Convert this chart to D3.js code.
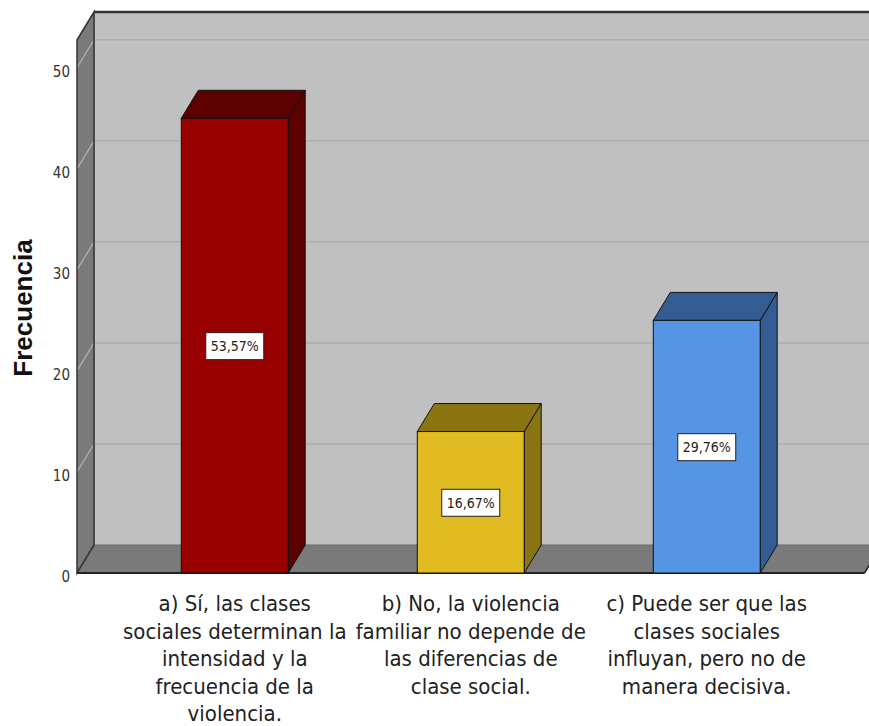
<!DOCTYPE html>
<html>
<head>
<meta charset="utf-8">
<script src="https://cdn.jsdelivr.net/npm/d3@7"></script>
<style>
  body { margin: 0; background: #fff; }
  .narrow { font-family: "Liberation Sans Narrow", "DejaVu Sans Condensed", "Arial Narrow", sans-serif; }
</style>
</head>
<body>
<div id="chart"></div>
<script>
// DATA
var categories = [
  ["a) Sí, las clases", "sociales determinan la", "intensidad y la", "frecuencia de la", "violencia."],
  ["b) No, la violencia", "familiar no depende de", "las diferencias de", "clase social."],
  ["c) Puede ser que las", "clases sociales", "influyan, pero no de", "manera decisiva."]
];
var frequencies = [45, 14, 25];
var percentLabels = ["53,57%", "16,67%", "29,76%"];
var yTicks = [0, 10, 20, 30, 40, 50];
var frontColors = ["#990000", "#e1bb22", "#5595e3"];
var darkColors = ["#5c0000", "#8a7512", "#345c92"];

// SVG SETUP
var width = 869, height = 726;
var svg = d3.select("#chart").append("svg")
  .attr("width", width)
  .attr("height", height);

// 3D DEPTH OFFSET
var dx = 17, dy = -28;

var y = d3.scaleLinear().domain([0, 52.75]).range([573, 40]);
var x = d3.scaleBand()
  .domain(d3.range(categories.length))
  .range([77, 864.5])
  .paddingInner(0.547)
  .paddingOuter(0.442);

var x0 = 77, x1 = 864.5;
var y0 = y(0), yTop = y(52.75);

// BACK WALL
svg.append("rect")
  .attr("x", x0 + dx).attr("y", yTop + dy)
  .attr("width", 900).attr("height", y0 - yTop)
  .attr("fill", "#c0c0c0");

// LEFT SIDE WALL
svg.append("polygon")
  .attr("points", [[x0, yTop], [x0 + dx, yTop + dy], [x0 + dx, y0 + dy], [x0, y0]].join(" "))
  .attr("fill", "#7a7a7a");

// GRID LINES
var grid = svg.append("g").attr("class", "grid");
grid.selectAll("line.back")
  .data(yTicks.filter(function(d) { return d > 0; }))
  .enter().append("line")
  .attr("class", "back")
  .attr("x1", x0 + dx).attr("x2", 900)
  .attr("y1", function(d) { return y(d) + dy; })
  .attr("y2", function(d) { return y(d) + dy; })
  .attr("stroke", "#adadad").attr("stroke-width", 1.5);
grid.selectAll("line.side")
  .data(yTicks.filter(function(d) { return d > 0; }))
  .enter().append("line")
  .attr("class", "side")
  .attr("x1", x0).attr("x2", x0 + dx)
  .attr("y1", function(d) { return y(d); })
  .attr("y2", function(d) { return y(d) + dy; })
  .attr("stroke", "#b4b4b4").attr("stroke-width", 1.2);

// FLOOR
svg.append("polygon")
  .attr("points", [[x0, y0], [x0 + dx, y0 + dy], [x1 + dx, y0 + dy], [x1, y0]].join(" "))
  .attr("fill", "#7a7a7a")
  .attr("stroke", "#6a6a6a").attr("stroke-width", 1);

// WALL EDGES
svg.append("line")
  .attr("x1", x0 + dx).attr("x2", 900)
  .attr("y1", yTop + dy).attr("y2", yTop + dy)
  .attr("stroke", "#333").attr("stroke-width", 2.5);
svg.append("polygon")
  .attr("points", [[x0, yTop], [x0 + dx, yTop + dy], [x0 + dx, y0 + dy], [x0, y0]].join(" "))
  .attr("fill", "none")
  .attr("stroke", "#333").attr("stroke-width", 1.5);
svg.append("line")
  .attr("x1", x0 + dx).attr("x2", x0 + dx)
  .attr("y1", yTop + dy).attr("y2", y0 + dy)
  .attr("stroke", "#444").attr("stroke-width", 1);
svg.append("line")
  .attr("x1", x0).attr("x2", x1)
  .attr("y1", y0).attr("y2", y0)
  .attr("stroke", "#222").attr("stroke-width", 2);
svg.append("line")
  .attr("x1", x1).attr("x2", x1 + dx)
  .attr("y1", y0).attr("y2", y0 + dy)
  .attr("stroke", "#222").attr("stroke-width", 1.5);

// BARS
var bars = svg.append("g").attr("class", "bars")
  .selectAll("g")
  .data(frequencies)
  .enter().append("g");

bars.append("polygon")
  .attr("points", function(d, i) {
    var r = x(i) + x.bandwidth();
    return [[r, y(d)], [r + dx, y(d) + dy], [r + dx, y0 + dy], [r, y0]].join(" ");
  })
  .attr("fill", function(d, i) { return darkColors[i]; })
  .attr("stroke", "#111").attr("stroke-width", 1);

bars.append("polygon")
  .attr("points", function(d, i) {
    var l = x(i), r = x(i) + x.bandwidth();
    return [[l, y(d)], [l + dx, y(d) + dy], [r + dx, y(d) + dy], [r, y(d)]].join(" ");
  })
  .attr("fill", function(d, i) { return darkColors[i]; })
  .attr("stroke", "#111").attr("stroke-width", 1);

bars.append("rect")
  .attr("x", function(d, i) { return x(i); })
  .attr("y", function(d) { return y(d); })
  .attr("width", x.bandwidth())
  .attr("height", function(d) { return y0 - y(d); })
  .attr("fill", function(d, i) { return frontColors[i]; })
  .attr("stroke", "#111").attr("stroke-width", 1);

// PERCENT LABELS
var labels = bars.append("g")
  .attr("transform", function(d, i) {
    return "translate(" + (x(i) + x.bandwidth() / 2) + "," + ((y(d) + y0) / 2) + ")";
  });
labels.append("rect")
  .attr("x", -29).attr("y", -13)
  .attr("width", 58).attr("height", 27)
  .attr("fill", "#fff")
  .attr("stroke", "#222").attr("stroke-width", 1);
labels.append("text")
  .attr("class", "narrow")
  .attr("text-anchor", "middle")
  .attr("dy", "0.4em")
  .style("font-size", "14px")
  .attr("fill", "#222")
  .text(function(d, i) { return percentLabels[i]; });

// Y AXIS
var yAxis = svg.append("g")
  .attr("class", "narrow")
  .attr("transform", "translate(70,0)")
  .call(d3.axisLeft(y).tickValues(yTicks).tickSize(0).tickPadding(0));
yAxis.select(".domain").remove();
yAxis.selectAll("text")
  .attr("class", "narrow")
  .style("font-size", "15px")
  .attr("fill", "#333")
  .attr("dy", "0.55em");

svg.append("text")
  .attr("transform", "translate(32,308) rotate(-90)")
  .attr("text-anchor", "middle")
  .style("font-family", "'Liberation Sans', Arial, sans-serif")
  .style("font-weight", "bold")
  .style("font-size", "26px")
  .attr("fill", "#111")
  .text("Frecuencia");

// CATEGORY LABELS
var cat = svg.append("g").selectAll("text")
  .data(categories)
  .enter().append("text")
  .attr("class", "narrow")
  .attr("text-anchor", "middle")
  .style("font-size", "22px")
  .attr("fill", "#222")
  .attr("transform", function(d, i) {
    return "translate(" + (x(i) + x.bandwidth() / 2) + ",611)";
  });
cat.selectAll("tspan")
  .data(function(d) { return d; })
  .enter().append("tspan")
  .attr("x", 0)
  .attr("y", function(d, i) { return i * 27.5; })
  .text(function(d) { return d; });
</script>
</body>
</html>
